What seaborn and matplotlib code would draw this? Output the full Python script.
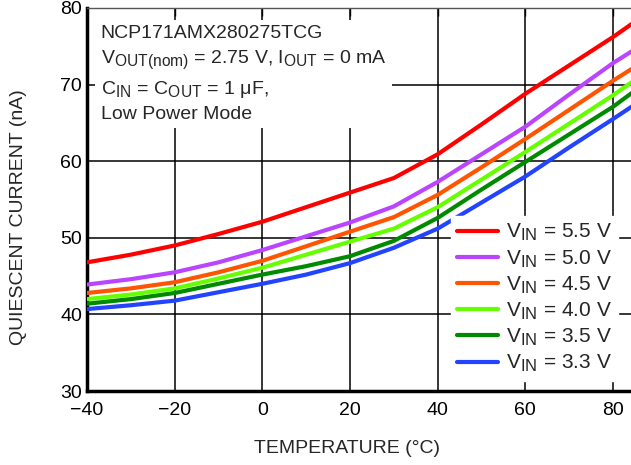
import matplotlib
matplotlib.use("Agg")
import matplotlib.pyplot as plt
import matplotlib._mathtext as _mt
import seaborn as sns
import pandas as pd

temps = [-40, -30, -20, -10, 0, 10, 20, 30, 40, 50, 60, 70, 80, 85]
vin_55 = [46.8, 47.8, 49.0, 50.5, 52.1, 54.0, 55.9, 57.8, 60.9, 64.8, 68.8, 72.5, 76.2, 78.2]
vin_50 = [43.9, 44.6, 45.5, 46.8, 48.4, 50.2, 52.0, 54.1, 57.3, 60.9, 64.5, 68.7, 72.8, 74.6]
vin_45 = [42.8, 43.4, 44.2, 45.5, 47.0, 48.9, 50.8, 52.7, 55.6, 59.2, 62.9, 66.7, 70.5, 72.3]
vin_40 = [42.0, 42.6, 43.4, 44.7, 46.1, 47.8, 49.5, 51.2, 54.0, 57.6, 61.2, 64.9, 68.6, 70.6]
vin_35 = [41.4, 42.0, 42.8, 44.0, 45.2, 46.3, 47.6, 49.6, 52.6, 56.3, 59.9, 63.5, 67.1, 69.2]
vin_33 = [40.7, 41.2, 41.8, 42.9, 44.0, 45.2, 46.7, 48.7, 51.2, 54.6, 58.0, 61.8, 65.5, 67.4]

labels = ["V$_{\\mathregular{IN}}$ = 5.5 V", "V$_{\\mathregular{IN}}$ = 5.0 V",
          "V$_{\\mathregular{IN}}$ = 4.5 V", "V$_{\\mathregular{IN}}$ = 4.0 V",
          "V$_{\\mathregular{IN}}$ = 3.5 V", "V$_{\\mathregular{IN}}$ = 3.3 V"]
series = [vin_55, vin_50, vin_45, vin_40, vin_35, vin_33]
colors = ["#FF0000", "#BB44FF", "#FF5500", "#66FF00", "#008A00", "#2244FF"]

xticks = [-40, -20, 0, 20, 40, 60, 80]
yticks = [30, 40, 50, 60, 70, 80]

rows = []
for lab, vals in zip(labels, series):
    for t, v in zip(temps, vals):
        rows.append({"T": t, "I": v, "VIN": lab})
df = pd.DataFrame(rows)

sns.set_style("white")
plt.rcParams["font.family"] = ["Liberation Sans", "DejaVu Sans"]
plt.rcParams["mathtext.fontset"] = "custom"
plt.rcParams["mathtext.rm"] = "Liberation Sans"
try:
    _mt.SHRINK_FACTOR = 0.8
except Exception:
    pass

fig = plt.figure(figsize=(6.31, 4.65), dpi=100)
ax = fig.add_axes([0.138, 0.159, 0.862, 0.824])

sns.lineplot(data=df, x="T", y="I", hue="VIN", hue_order=labels,
             palette=colors, linewidth=3.0, ax=ax, legend=True, zorder=3)

ax.set_xlim(-40, 84.1)
ax.set_ylim(30, 80)
ax.set_xticks(xticks)
ax.set_yticks(yticks)
ax.set_xticklabels(["\u221240", "\u221220", "0", "20", "40", "60", "80"])
ax.tick_params(axis="both", direction="in", length=6, width=1, labelsize=14,
               top=True, right=False, colors="black")
ax.tick_params(axis="x", pad=8)
ax.grid(True, color="black", linewidth=1.1)
ax.set_axisbelow(True)

for s in ["left", "bottom"]:
    ax.spines[s].set_linewidth(2.5)
    ax.spines[s].set_color("black")
ax.spines["top"].set_linewidth(1.0)
ax.spines["top"].set_color("#555555")
ax.spines["right"].set_visible(False)

ax.set_xlabel("TEMPERATURE (\u00b0C)", fontsize=14)
ax.set_ylabel("QUIESCENT CURRENT (nA)", fontsize=14)
ax.xaxis.set_label_coords(0.478, -0.127)
ax.yaxis.set_label_coords(-0.110, 0.454)

handles, labs = ax.get_legend_handles_labels()
for h in handles:
    h.set_linewidth(3.0)
leg = ax.legend(handles, labs, loc="lower right", bbox_to_anchor=(0.995, 0.0),
                fontsize=15, frameon=True, fancybox=False, framealpha=1,
                edgecolor="white", handlelength=2.0, handletextpad=0.35,
                labelspacing=0.22, borderpad=0.3)
leg.set_zorder(4)

txt = ("NCP171AMX280275TCG\n"
       "V$_{\\mathregular{OUT(nom)}}$ = 2.75 V, I$_{\\mathregular{OUT}}$ = 0 mA\n"
       "C$_{\\mathregular{IN}}$ = C$_{\\mathregular{OUT}}$ = 1 \u03bcF,\n"
       "Low Power Mode")
ax.text(0.025, 0.955, txt, transform=ax.transAxes, fontsize=14, va="top",
        ha="left", linespacing=1.45, zorder=4,
        bbox=dict(facecolor="white", edgecolor="none", pad=4))

fig.savefig("out.png", dpi=100)
